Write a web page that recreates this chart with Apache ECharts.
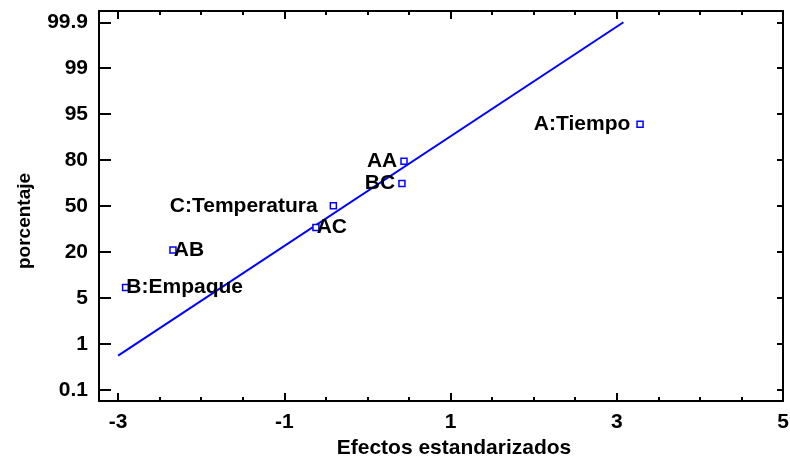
<!DOCTYPE html>
<html>
<head>
<meta charset="utf-8">
<script src="https://cdn.jsdelivr.net/npm/echarts@6/dist/echarts.min.js"></script>
<style>
  html, body { margin: 0; padding: 0; background: #fff; }
  #chart { width: 790px; height: 459px; }
</style>
</head>
<body>
<div id="chart"></div>
<script>
const chart = echarts.init(document.getElementById('chart'));

// normal probability plot of standardized effects
const effectNames = ['B:Empaque', 'AB', 'AC', 'C:Temperatura', 'BC', 'AA', 'A:Tiempo'];
const effectValues = [-2.91, -2.34, -0.62, -0.41, 0.415, 0.44, 3.28];
const effectPercent = [8.4, 21.2, 35.9, 50.1, 64.7, 79.3, 91.7];
const yTickLabels = [0.1, 1, 5, 20, 50, 80, 95, 99, 99.9];
const xMajorTicks = [-3, -1, 1, 3, 5];
const xMinorTicks = [-3, -2.5, -2, -1.5, -1, -0.5, 0, 0.5, 1, 1.5, 2, 2.5, 3, 3.5, 4, 4.5, 5];
const lineX = [-3, 3.08];
const linePercent = [0.77, 99.9];

const FONT = "'Liberation Sans', Arial, sans-serif";
const BLUE = '#0000ff';

// percent -> position on the (evenly spaced) probability axis
function pctToPos(p) {
  for (let i = 0; i < yTickLabels.length - 1; i++) {
    const a = yTickLabels[i], b = yTickLabels[i + 1];
    if (p <= b || i === yTickLabels.length - 2) {
      return i + (p - a) / (b - a);
    }
  }
  return 0;
}

const yIdx = yTickLabels.map((_, i) => i);
const labelSide = {
  'B:Empaque': ['right', -3],
  'AB': ['right', -3],
  'AC': ['right', -3],
  'C:Temperatura': ['left', 12],
  'BC': ['left', 3],
  'AA': ['left', 3],
  'A:Tiempo': ['left', 6]
};

const xMin = -3.23, xMax = 5;
const yMin = -0.245, yMax = 8.245;
const black = { color: '#000', width: 2 };
const textBase = { color: '#000', fontFamily: FONT, fontWeight: 'bold', fontSize: 21 };

function xAxisDef(pos, ticks, len, withLabels) {
  return {
    type: 'value', position: pos, min: xMin, max: xMax,
    axisLine: { show: withLabels !== null, onZero: false, lineStyle: black },
    axisTick: { show: true, inside: true, length: len, customValues: ticks, lineStyle: black },
    axisLabel: withLabels ? Object.assign({ customValues: xMajorTicks, margin: 11 }, textBase) : { show: false },
    splitLine: { show: false }
  };
}

const bottom = xAxisDef('bottom', xMajorTicks, 8, true);
bottom.name = 'Efectos estandarizados';
bottom.nameLocation = 'middle';
bottom.nameGap = 29;
bottom.nameTextStyle = Object.assign({}, textBase, { padding: [0, 0, 0, 26] });

const points = effectNames.map((name, i) => ({
  name: name,
  value: [effectValues[i], pctToPos(effectPercent[i])],
  label: { show: true, position: labelSide[name][0], distance: labelSide[name][1] }
}));

chart.setOption({
  animation: false,
  backgroundColor: '#fff',
  grid: { left: 99, right: 7, top: 11, bottom: 58, containLabel: false, outerBoundsMode: 'none' },
  xAxis: [
    bottom,
    xAxisDef('bottom', xMinorTicks, 4, null),
    xAxisDef('top', xMajorTicks, 8, false),
    xAxisDef('top', xMinorTicks, 4, null)
  ],
  yAxis: [
    {
      type: 'value', position: 'left', min: yMin, max: yMax,
      axisLine: { show: true, onZero: false, lineStyle: black },
      axisTick: { show: true, inside: true, length: 12, customValues: yIdx, lineStyle: black },
      axisLabel: Object.assign({
        customValues: yIdx, margin: 11,
        formatter: (v) => String(yTickLabels[Math.round(v)])
      }, textBase),
      splitLine: { show: false },
      name: 'porcentaje',
      nameLocation: 'middle',
      nameRotate: 90,
      nameGap: 65,
      nameTextStyle: Object.assign({}, textBase, { fontSize: 19, padding: [0, 30, 0, 0] })
    },
    {
      type: 'value', position: 'right', min: yMin, max: yMax,
      axisLine: { show: true, onZero: false, lineStyle: black },
      axisTick: { show: true, inside: true, length: 6, customValues: yIdx, lineStyle: black },
      axisLabel: { show: false },
      splitLine: { show: false }
    }
  ],
  series: [
    {
      type: 'line',
      data: lineX.map((x, i) => [x, pctToPos(linePercent[i])]),
      showSymbol: false,
      lineStyle: { color: BLUE, width: 2 },
      z: 2
    },
    {
      type: 'scatter',
      data: points,
      symbol: 'rect',
      symbolSize: 6,
      itemStyle: { color: '#fff', borderColor: BLUE, borderWidth: 1.5, opacity: 1 },
      label: Object.assign({ formatter: '{b}' }, textBase),
      emphasis: { disabled: true },
      z: 3
    }
  ]
});
</script>
</body>
</html>
